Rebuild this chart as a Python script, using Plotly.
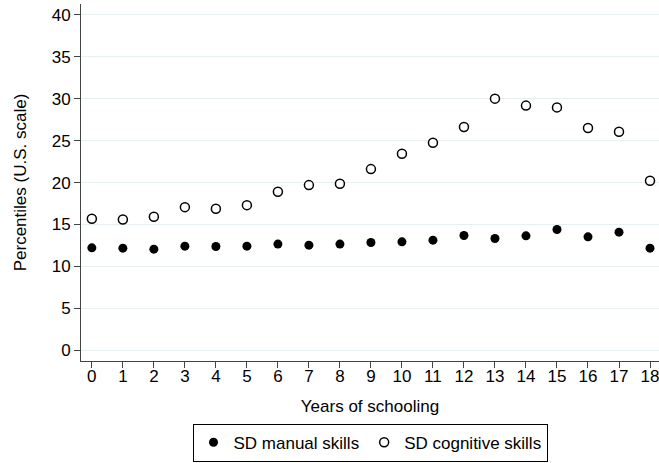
import plotly.graph_objects as go

years = list(range(19))
sd_manual = [12.22, 12.18, 12.06, 12.42, 12.38, 12.42, 12.66, 12.54, 12.66,
             12.85, 12.93, 13.13, 13.69, 13.33, 13.65, 14.41, 13.53, 14.09, 12.18]
sd_cognitive = [15.68, 15.60, 15.92, 17.07, 16.88, 17.31, 18.90, 19.70, 19.86,
                21.61, 23.44, 24.76, 26.63, 30.01, 29.18, 28.97, 26.51, 26.07, 20.22]

x_ticks = list(range(19))
y_ticks = list(range(0, 41, 5))

fig = go.Figure()
fig.add_trace(go.Scatter(
    x=years, y=sd_manual, mode="markers", name="SD manual skills",
    marker=dict(symbol="circle", size=9, color="black",
                line=dict(color="black", width=0)),
))
fig.add_trace(go.Scatter(
    x=years, y=sd_cognitive, mode="markers", name="SD cognitive skills",
    marker=dict(symbol="circle", size=9, color="white",
                line=dict(color="black", width=1.5)),
))

fig.update_layout(
    width=659, height=463,
    margin=dict(l=81, r=0, t=4, b=102, autoexpand=False),
    paper_bgcolor="white", plot_bgcolor="white",
    font=dict(family="Liberation Sans, Arial, sans-serif", size=17, color="black"),
    showlegend=True,
    legend=dict(
        orientation="h", x=0.5, xanchor="center", y=-0.282, yanchor="bottom",
        bordercolor="black", borderwidth=1, bgcolor="white",
        font=dict(size=17), itemwidth=30,
    ),
    xaxis=dict(
        range=[-0.35, 18.29], tickvals=x_ticks, ticktext=[str(t) for t in x_ticks],
        showgrid=False, zeroline=False, showline=True, linecolor="#444", linewidth=1,
        ticks="outside", ticklen=6, tickcolor="#444", tickfont=dict(size=17),
        ticklabeloverflow="allow", ticklabelstandoff=-6, automargin=False,
        title=dict(text="Years of schooling", standoff=14, font=dict(size=17)),
    ),
    yaxis=dict(
        range=[-1.28, 41.3], tickvals=y_ticks, ticktext=[str(t) for t in y_ticks],
        showgrid=True, gridcolor="#e8eff2", gridwidth=1, zeroline=False,
        showline=True, linecolor="#444", linewidth=1, automargin=False,
        ticks="outside", ticklen=6, tickcolor="#444", tickfont=dict(size=17),
        title=dict(text="Percentiles (U.S. scale)", standoff=20, font=dict(size=17)),
    ),
)

fig.write_html("out.html")
